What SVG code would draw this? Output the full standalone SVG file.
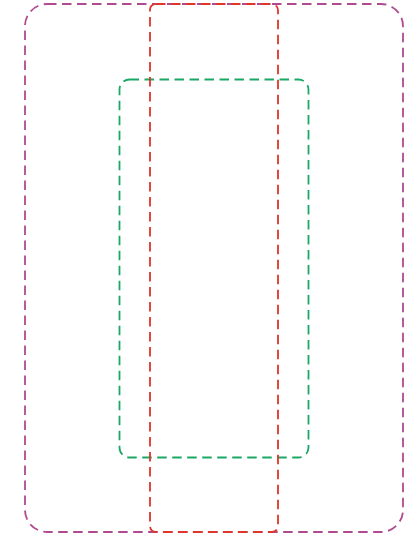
<svg xmlns="http://www.w3.org/2000/svg" width="415" height="536" viewBox="0 0 415 536">
<style>
.b{fill:none;stroke-width:1.8;stroke-dasharray:9.5 5.5}
</style>
<rect width="415" height="536" fill="#fff"/>
<g id="outer"><rect class="b" x="25" y="4" width="378" height="528" rx="22" stroke="#b04a90"/></g>
<g id="green"><rect class="b" x="119.5" y="79.5" width="189" height="378" rx="10" stroke="#1aa866"/></g>
<g id="red"><rect class="b" x="150" y="4" width="128" height="528" rx="6" stroke="#e0352b"/></g>
<g id="connectors"></g>
</svg>
